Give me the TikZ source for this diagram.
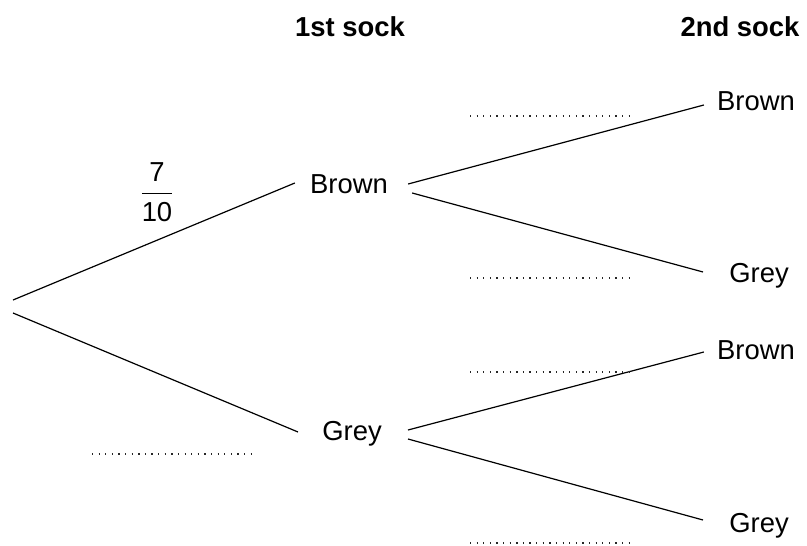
\documentclass[tikz,border=0pt]{standalone}
\usepackage{amsmath}
\usepackage{fontspec}
\setmainfont{Liberation Sans}
\usetikzlibrary{calc}
\tikzset{
	lbl/.style={font=\fontsize{19.5}{23}\selectfont, inner sep=0pt, anchor=base},
	hdr/.style={lbl, font=\fontsize{19.5}{23}\selectfont\bfseries},
	branch/.style={line width=0.3mm},
	blank/.style={line width=0.9pt, color=black!85, dash pattern=on 0.9pt off 3.8pt}
}

\begin{document}
\begin{tikzpicture}[x=0.025cm, y=-0.025cm]
			%%%%% START %%%%%
			\useasboundingbox (0, 0) rectangle (807, 545);
			
			\node[hdr] (first) at (350, 37) {1st sock};
			\node[hdr] (second) at (740, 37) {2nd sock};
			
			\coordinate (rootU) at (13, 300);
			\coordinate (rootL) at (13, 313);
			
			\node[lbl] (brownA) at (349, 193) {Brown};
			\node[lbl] (greyA) at (352, 440) {Grey};
			
			\node[lbl] (brownB) at (756, 110) {Brown};
			\node[lbl] (greyB) at (759, 282) {Grey};
			\node[lbl] (brownC) at (756, 359) {Brown};
			\node[lbl] (greyC) at (759, 532) {Grey};
			
			\node[lbl] (frac) at (157, 201) {$\genfrac{}{}{0.8pt}{0}{\text{7}}{\text{10}}$};
			
			\draw[branch] (rootU) -- ($(brownA.base west)+(-15, -10)$);
			\draw[branch] (rootL) -- ($(greyA.base west)+(-24, -8)$);
			
			\draw[branch] ($(brownA.base east)+(20, -9)$) -- ($(brownB.base west)+(-13, -5)$);
			\draw[branch] ($(brownA.base east)+(24, 0)$) -- ($(greyB.base west)+(-26, -10)$);
			\draw[branch] ($(greyA.base east)+(26, -10)$) -- ($(brownC.base west)+(-13, -7)$);
			\draw[branch] ($(greyA.base east)+(26, -1)$) -- ($(greyC.base west)+(-26, -12)$);
			
			\draw[blank] (470, 116) -- (635, 116);
			\draw[blank] (470, 278) -- (635, 278);
			\draw[blank] (470, 372) -- (635, 372);
			\draw[blank] (470, 543) -- (635, 543);
			\draw[blank] (92, 454) -- (257, 454);
			
			%%%%% END %%%%%
		\end{tikzpicture}
\end{document}
